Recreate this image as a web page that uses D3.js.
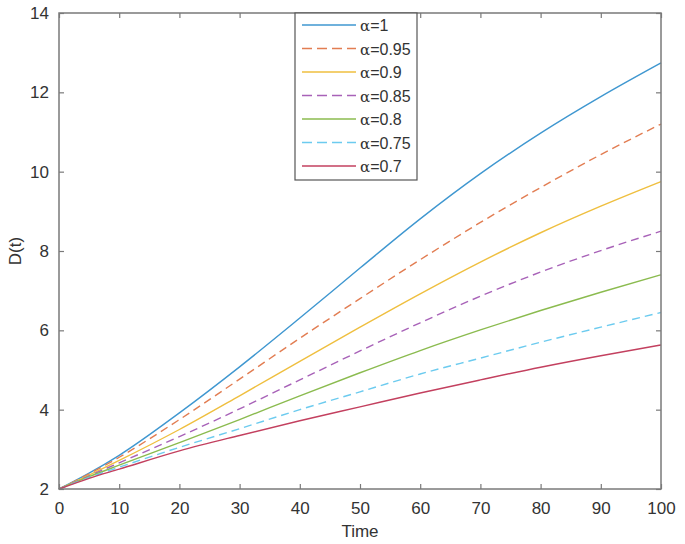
<!DOCTYPE html>
<html>
<head>
<meta charset="utf-8">
<script src="https://cdn.jsdelivr.net/npm/d3@7"></script>
<style>
  body { margin: 0; background: #fff; }
  text { font-family: "Liberation Sans", Arial, sans-serif; }
</style>
</head>
<body>
<div class="chart"></div>
<script>
// values, D(t) at each time
const times = [0, 5, 10, 20, 30, 40, 50, 60, 70, 80, 90, 100]
const alpha100 = [2, 2.4, 2.85, 3.92, 5.08, 6.31, 7.57, 8.81, 9.95, 10.97, 11.89, 12.74]
const alpha095 = [2, 2.38, 2.8, 3.75, 4.77, 5.8, 6.8, 7.78, 8.72, 9.6, 10.43, 11.2]
const alpha090 = [2, 2.35, 2.72, 3.5, 4.35, 5.22, 6.08, 6.92, 7.72, 8.46, 9.13, 9.75]
const alpha085 = [2, 2.33, 2.66, 3.32, 4.02, 4.75, 5.48, 6.19, 6.86, 7.47, 8.01, 8.5]
const alpha080 = [2, 2.31, 2.6, 3.17, 3.75, 4.35, 4.93, 5.49, 6.01, 6.5, 6.96, 7.4]
const alpha075 = [2, 2.29, 2.55, 3.05, 3.52, 4.0, 4.45, 4.9, 5.3, 5.7, 6.08, 6.45]
const alpha070 = [2, 2.27, 2.5, 2.96, 3.35, 3.72, 4.07, 4.42, 4.75, 5.07, 5.36, 5.63]

const seriesNames = ['1', '0.95', '0.9', '0.85', '0.8', '0.75', '0.7']
const seriesValues = [alpha100, alpha095, alpha090, alpha085, alpha080, alpha075, alpha070]
const colors = ['#3f97d0', '#e27d52', '#efbf3f', '#a862b8', '#8bbb4f', '#6ccbef', '#c3405f']
const dashed = [false, true, false, true, false, true, false]

const xTicks = [0, 10, 20, 30, 40, 50, 60, 70, 80, 90, 100]
const yTicks = [2, 4, 6, 8, 10, 12, 14]

const dimensions = {
    width: 685,
    height: 544,
    margin: { top: 13, right: 24, bottom: 55, left: 59 }
}
const innerW = dimensions.width - dimensions.margin.left - dimensions.margin.right
const innerH = dimensions.height - dimensions.margin.top - dimensions.margin.bottom

const svg = d3.select('.chart')
    .append('svg')
    .attr('width', dimensions.width)
    .attr('height', dimensions.height)

const container = svg.append('g')
    .attr('transform', `translate(${dimensions.margin.left}, ${dimensions.margin.top})`)

const xScale = d3.scaleLinear().domain([0, 100]).range([0, innerW])
const yScale = d3.scaleLinear().domain([2, 14]).range([innerH, 0])

const axisColor = '#7a7a7a'
const labelColor = '#333'

// lines first so the box sits on top
const lineGen = d3.line()
    .x((d, i) => xScale(times[i]))
    .y(d => yScale(d))
    .curve(d3.curveMonotoneX)

container.selectAll('path.series')
    .data(seriesValues)
    .join('path')
    .attr('class', 'series')
    .attr('d', lineGen)
    .attr('fill', 'none')
    .attr('stroke', (d, i) => colors[i])
    .attr('stroke-width', 1.4)
    .attr('stroke-dasharray', (d, i) => dashed[i] ? '8,5' : null)

// axes, MATLAB style: inward ticks on all four sides
const styleAxis = g => {
    g.select('.domain').remove()
    g.selectAll('.tick line').attr('stroke', axisColor).attr('stroke-width', 1.2)
    g.selectAll('.tick text')
        .attr('fill', labelColor)
        .style('font-size', '17px')
}

container.append('g')
    .attr('transform', `translate(0, ${innerH})`)
    .call(d3.axisBottom(xScale).tickValues(xTicks).tickSize(-5).tickPadding(13))
    .call(styleAxis)

container.append('g')
    .call(d3.axisLeft(yScale).tickValues(yTicks).tickSize(-5).tickPadding(10))
    .call(styleAxis)

container.append('g')
    .call(d3.axisTop(xScale).tickValues(xTicks).tickSize(-5).tickFormat(''))
    .call(styleAxis)

container.append('g')
    .attr('transform', `translate(${innerW}, 0)`)
    .call(d3.axisRight(yScale).tickValues(yTicks).tickSize(-5).tickFormat(''))
    .call(styleAxis)

container.append('rect')
    .attr('width', innerW)
    .attr('height', innerH)
    .attr('fill', 'none')
    .attr('stroke', axisColor)
    .attr('stroke-width', 1.5)

// axis titles
svg.append('text')
    .attr('x', dimensions.margin.left + innerW / 2)
    .attr('y', 537)
    .attr('text-anchor', 'middle')
    .attr('fill', labelColor)
    .style('font-size', '17px')
    .text('Time')

svg.append('text')
    .attr('transform', `translate(21, ${dimensions.margin.top + innerH / 2}) rotate(-90)`)
    .attr('text-anchor', 'middle')
    .attr('fill', labelColor)
    .style('font-size', '17px')
    .text('D(t)')

// legend
const legend = svg.append('g').attr('transform', 'translate(295, 13)')
legend.append('rect')
    .attr('width', 122)
    .attr('height', 167)
    .attr('fill', '#fff')
    .attr('stroke', '#555')
    .attr('stroke-width', 1.2)

const rows = legend.selectAll('g.row')
    .data(seriesNames)
    .join('g')
    .attr('class', 'row')
    .attr('transform', (d, i) => `translate(0, ${12 + i * 23.5})`)

rows.append('line')
    .attr('x1', 7)
    .attr('x2', 61)
    .attr('stroke', (d, i) => colors[i])
    .attr('stroke-width', 1.4)
    .attr('stroke-dasharray', (d, i) => dashed[i] ? '10,5' : null)

const labels = rows.append('text')
    .attr('x', 65)
    .attr('y', 6)
    .attr('fill', labelColor)
    .style('font-size', '16px')

labels.append('tspan')
    .style('font-family', '"DejaVu Serif", serif')
    .style('font-size', '15px')
    .text('α')
labels.append('tspan').text(d => '=' + d)
</script>
</body>
</html>
